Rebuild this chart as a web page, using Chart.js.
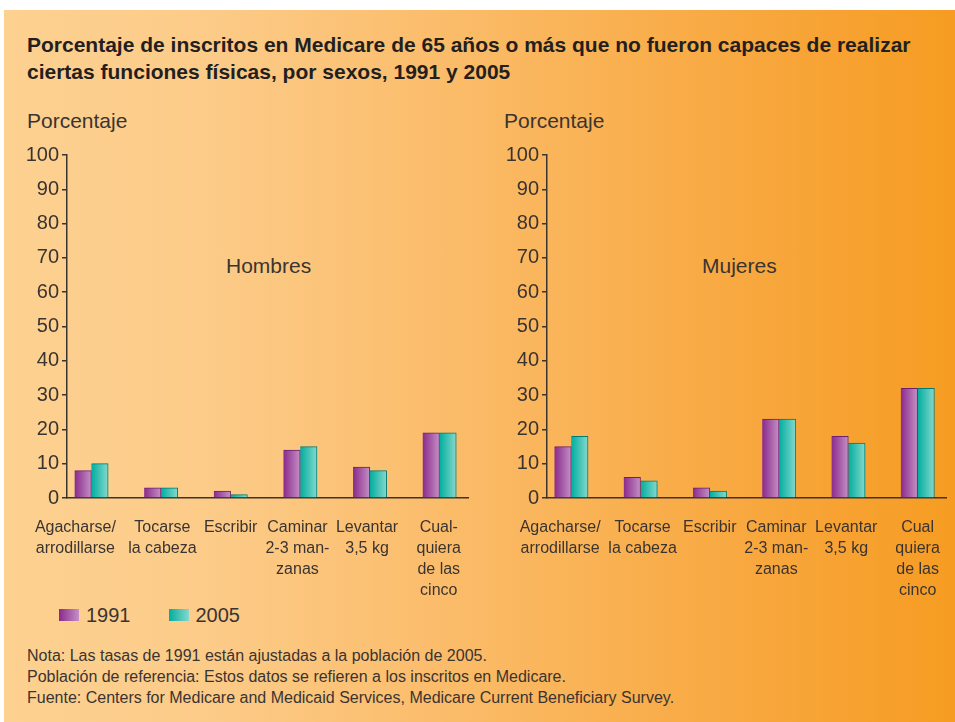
<!DOCTYPE html>
<html>
<head>
<meta charset="utf-8">
<script src="https://cdn.jsdelivr.net/npm/chart.js@4"></script>
<style>
  html, body { margin: 0; padding: 0; background: #fff; overflow: hidden; }
  body { width: 955px; height: 722px; position: relative; font-family: "Liberation Sans", Arial, sans-serif; color: #3a3431; }
  #panel {
    position: absolute; left: 4px; top: 10px; width: 951px; height: 712px;
    background: linear-gradient(to right, #fdd191 0%, #fccb88 22%, #fbbd6c 45%, #f9ae4c 68%, #f7a232 88%, #f69c22 100%);
  }
  .abs { position: absolute; white-space: nowrap; }
  #title { left: 27px; top: 31px; font-weight: bold; font-size: 21px; line-height: 27px; color: #231f20; }
  .ylab { font-size: 21px; top: 109px; }
  .panelname { font-size: 21px; top: 254px; }
  canvas { position: absolute; }
  #legend { left: 59px; top: 604px; font-size: 20px; }
  .sw { display: inline-block; width: 20px; height: 12px; vertical-align: 1px; margin-right: 7px; }
  #notes { left: 27px; top: 645px; font-size: 16px; line-height: 21px; }
</style>
</head>
<body>
<div id="panel"></div>
<div id="title" class="abs">Porcentaje de inscritos en Medicare de 65 años o más que no fueron capaces de realizar<br>ciertas funciones físicas, por sexos, 1991 y 2005</div>
<div class="abs ylab" style="left:27px">Porcentaje</div>
<div class="abs ylab" style="left:504px">Porcentaje</div>
<div class="abs panelname" style="left:226px">Hombres</div>
<div class="abs panelname" style="left:702px">Mujeres</div>
<canvas id="chartH" width="470" height="463" style="left:10px;top:140px"></canvas>
<canvas id="chartM" width="465" height="463" style="left:490px;top:140px"></canvas>
<div id="legend" class="abs">
  <span class="sw" style="background:linear-gradient(to right,#8a2a8c,#c490c4)"></span>1991<span style="display:inline-block;width:38px"></span><span class="sw" style="background:linear-gradient(to right,#00ae9f,#86d8cd)"></span>2005
</div>
<div id="notes" class="abs">Nota: Las tasas de 1991 están ajustadas a la población de 2005.<br>Población de referencia: Estos datos se refieren a los inscritos en Medicare.<br>Fuente: Centers for Medicare and Medicaid Services, Medicare Current Beneficiary Survey.</div>

<script>
// categories (multi-line tick labels)
const catsHombres = [["Agacharse/", "arrodillarse"], ["Tocarse", "la cabeza"], ["Escribir"], ["Caminar", "2-3 man-", "zanas"], ["Levantar", "3,5 kg"], ["Cual-", "quiera", "de las", "cinco"]];
const catsMujeres = [["Agacharse/", "arrodillarse"], ["Tocarse", "la cabeza"], ["Escribir"], ["Caminar", "2-3 man-", "zanas"], ["Levantar", "3,5 kg"], ["Cual", "quiera", "de las", "cinco"]];

const hombres1991 = [8, 3, 2, 14, 9, 19];
const hombres2005 = [10, 3, 1, 15, 8, 19];
const mujeres1991 = [15, 6, 3, 23, 18, 32];
const mujeres2005 = [18, 5, 2, 23, 16, 32];

const yTicks = [0, 10, 20, 30, 40, 50, 60, 70, 80, 90, 100];

const BAR_W = 16.8;
const purple = ["#8a2a8c", "#c490c4"];
const teal = ["#00ae9f", "#86d8cd"];

function barFill(stops, side) {
  return function(c) {
    const xs = c.chart.scales.x;
    if (c.type !== 'data' || !xs || !c.chart.chartArea) return stops[0];
    const center = xs.getPixelForValue(c.dataIndex) + side * BAR_W / 2;
    const g = c.chart.ctx.createLinearGradient(center - BAR_W / 2, 0, center + BAR_W / 2, 0);
    g.addColorStop(0, stops[0]);
    g.addColorStop(1, stops[1]);
    return g;
  };
}

function makeChart(id, cats, v1991, v2005, nudge, padRight) {
  const toPts = vals => vals.map((v, i) => ({ x: i, y: v }));
  return new Chart(document.getElementById(id), {
    type: 'bar',
    data: {
      datasets: [
        {
          label: '1991',
          data: toPts(v1991),
          backgroundColor: barFill(purple, -1),
          borderColor: "#6e1f70",
          borderWidth: { top: 1, right: 1, left: 0, bottom: 0 },
          borderSkipped: 'start',
          barThickness: BAR_W
        },
        {
          label: '2005',
          data: toPts(v2005),
          backgroundColor: barFill(teal, 1),
          borderColor: "#007a70",
          borderWidth: { top: 1, right: 1, left: 0, bottom: 0 },
          borderSkipped: 'start',
          barThickness: BAR_W
        }
      ]
    },
    options: {
      responsive: false,
      animation: false,
      layout: { padding: { top: 13, right: padRight, bottom: 0, left: 0 } },
      plugins: { legend: { display: false }, tooltip: { enabled: false } },
      scales: {
        x: {
          type: 'linear',
          offset: false,
          min: -0.35,
          max: 5.41,
          grid: { display: false },
          border: { display: true, color: "#3a3431", width: 1.5 },
          afterBuildTicks: function(scale) {
            scale.ticks = cats.map((c, i) => ({ value: i + nudge[i] }));
          },
          afterFit: function(scale) { scale.height = 105; },
          ticks: {
            autoSkip: false,
            maxRotation: 0,
            minRotation: 0,
            padding: 11,
            color: "#3a3431",
            font: { family: "'Liberation Sans', Arial, sans-serif", size: 16, lineHeight: 1.32 },
            callback: function(value, index) { return cats[index]; }
          }
        },
        y: {
          min: 0,
          max: 100,
          afterBuildTicks: function(scale) {
            scale.ticks = yTicks.map(v => ({ value: v }));
          },
          afterFit: function(scale) { scale.width = 57; },
          grid: { drawOnChartArea: false, drawTicks: true, tickLength: 5, color: "#3a3431", lineWidth: 1.5 },
          border: { display: true, color: "#3a3431", width: 1.5 },
          ticks: {
            padding: 3,
            color: "#3a3431",
            font: { family: "'Liberation Sans', Arial, sans-serif", size: 20 }
          }
        }
      }
    }
  });
}

makeChart('chartH', catsHombres, hombres1991, hombres2005, [-0.23, 0.02, 0, -0.04, -0.04, -0.01], 12);
makeChart('chartM', catsMujeres, mujeres1991, mujeres2005, [-0.16, 0.03, 0, -0.04, -0.03, 0], 9);
</script>
</body>
</html>
